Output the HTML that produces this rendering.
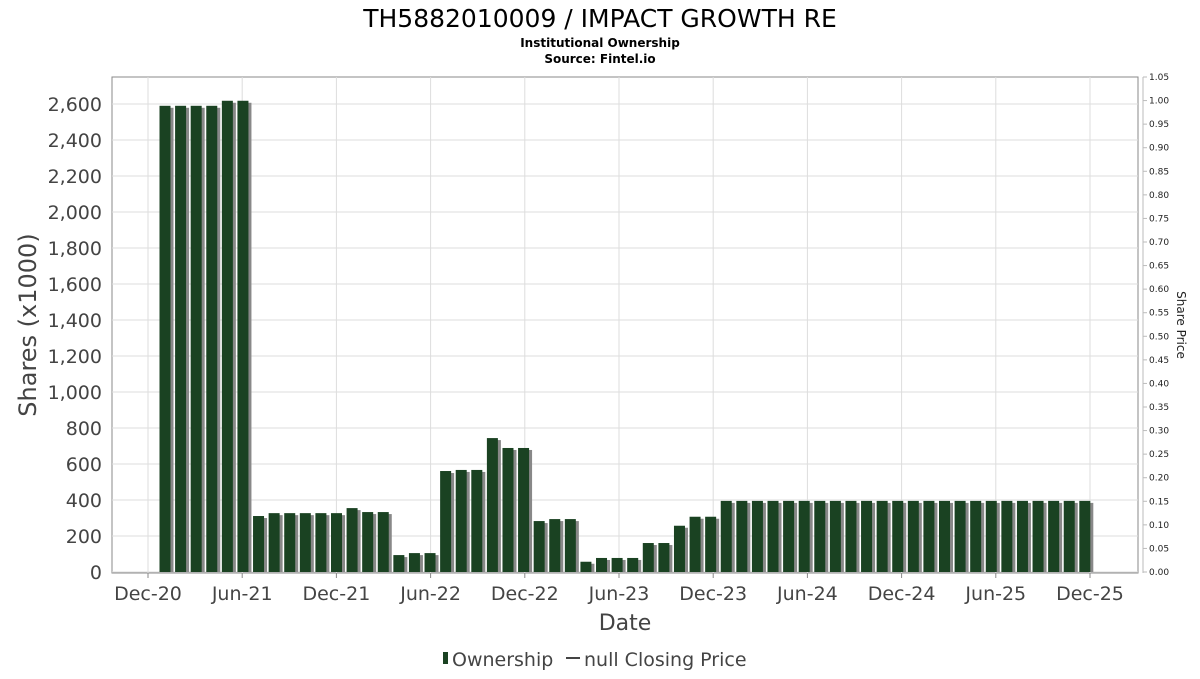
<!DOCTYPE html>
<html><head><meta charset="utf-8"><style>
body{margin:0;background:#fff;font-family:"DejaVu Sans","Liberation Sans",sans-serif}
svg text{font-family:"DejaVu Sans","Liberation Sans",sans-serif}
</style></head><body>
<svg id="chart" width="1200" height="675" xmlns="http://www.w3.org/2000/svg">
<text x="600" y="27" text-anchor="middle" font-size="25">TH5882010009 / IMPACT GROWTH RE</text>
<text x="600" y="47" text-anchor="middle" font-size="12" font-weight="bold">Institutional Ownership</text>
<text x="600" y="63" text-anchor="middle" font-size="12" font-weight="bold">Source: Fintel.io</text>
<rect x="112" y="77" width="1026" height="496" fill="#fff" stroke="#888"/>
<g id="grid"></g>
<g id="bars"></g>
<g id="axes"></g>
<text transform="translate(36,325) rotate(-90)" text-anchor="middle" font-size="24" fill="#444">Shares (x1000)</text>
<text transform="translate(1177,325) rotate(90)" text-anchor="middle" font-size="12" fill="#222">Share Price</text>
<text x="625" y="630" text-anchor="middle" font-size="22" fill="#444">Date</text>
<g>
<rect x="443" y="652" width="5" height="12" fill="#1a4222"/>
<text x="452" y="666" font-size="19" fill="#444">Ownership</text>
<line x1="566" y1="658" x2="580" y2="658" stroke="#444" stroke-width="2"/>
<text x="584" y="666" font-size="19" fill="#444">null Closing Price</text>
</g>
</svg>
<script>
const yTicks=[0,200,400,600,800,1000,1200,1400,1600,1800,2000,2200,2400,2600];
const rightTicks=[0,0.05,0.10,0.15,0.20,0.25,0.30,0.35,0.40,0.45,0.50,0.55,0.60,0.65,0.70,0.75,0.80,0.85,0.90,0.95,1.00,1.05];
const xTickLabels=["Dec-20","Jun-21","Dec-21","Jun-22","Dec-22","Jun-23","Dec-23","Jun-24","Dec-24","Jun-25","Dec-25"];
const ownership=[2590,2590,2590,2590,2618,2618,
311,327,327,327,327,327,
355,333,333,94,105,105,561,567,567,744,689,689,
283,294,294,57,78,78,78,161,161,257,307,307,
395,395,395,395,395,395,395,395,395,395,395,395,
395,395,395,395,395,395,395,395,395,395,395,395];
const NS='http://www.w3.org/2000/svg';
const X0=148,MPX=15.7;
function xm(i){return X0+i*MPX;}
function xb(i){return 165+i*15.59;}
function yL(v){return 572-v*0.18;}
function yR(v){return 572-v*(495/1.05);}
function mk(tag,attrs,parent,txt){const e=document.createElementNS(NS,tag);for(const k in attrs)e.setAttribute(k,attrs[k]);if(txt!==undefined)e.textContent=txt;parent.appendChild(e);return e;}
const grid=document.getElementById('grid'),bars=document.getElementById('bars'),axes=document.getElementById('axes');
yTicks.forEach(v=>{
 const l=mk('line',{x1:112,x2:1138,y1:yL(v),y2:yL(v),stroke:'#ddd'},grid);
 
 
 const t=mk('text',{x:102,y:yL(v)+7,'text-anchor':'end','font-size':19,fill:'#444'},axes,v.toLocaleString('en-US'));
 
 
});
xTickLabels.forEach((s,i)=>{
 const x=xm(i*6);
 const l=mk('line',{x1:x,x2:x,y1:77,y2:573,stroke:'#ddd'},grid);
 
 
 mk('line',{x1:x,x2:x,y1:573,y2:578,stroke:'#888'},axes);
 const t=mk('text',{x:x,y:600,'text-anchor':'middle','font-size':19,fill:'#444'},axes,s);
 
 
});
mk('line',{x1:1143,x2:1143,y1:77,y2:573,stroke:'#bbb'},axes);
rightTicks.forEach(v=>{
 mk('line',{x1:1143,x2:1147,y1:yR(v),y2:yR(v),stroke:'#bbb'},axes);
 const t=mk('text',{x:1149,y:yR(v)+3,'font-size':9,fill:'#222'},axes,v.toFixed(2));
 
 
});
ownership.forEach((v,i)=>{
 const cx=xb(i),w=11,top=yL(v),h=572-top;
 const s=mk('rect',{x:cx-w/2+3,y:top+2,width:w,height:h-2,fill:'#888'},bars);
 
 
 const b=mk('rect',{x:cx-w/2,y:top,width:w,height:h,fill:'#1a4222'},bars);
 
 
});
</script>
</body></html>
